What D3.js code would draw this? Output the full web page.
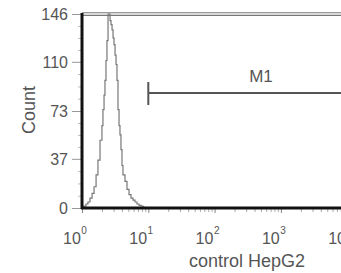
<!DOCTYPE html>
<html><head><meta charset="utf-8">
<script src="https://cdn.jsdelivr.net/npm/d3@7"></script>
<style>
html,body{margin:0;padding:0;background:#fff;}
svg{display:block;}
text{font-family:"Liberation Sans",Arial,sans-serif;fill:#555;}
</style></head>
<body>
<script>
// ---- data ----
const intensity = [1.00,1.07,1.15,1.23,1.32,1.42,1.52,1.63,1.74,1.87,2.00,2.07,2.15,2.22,2.30,2.38,2.47,2.56,2.65,2.74,2.84,2.94,3.04,3.15,3.26,3.37,3.49,3.62,3.74,3.87,4.01,4.15,4.45,4.77,5.12,5.48,5.88,6.30,6.75,7.24,7.76,8.32,8.92];
const counts    = [0,1.5,3,4.5,7.5,11,16,25,36,51,62,74,85,96,111,126,146,146,141,138,134,128,123,115,108,96,74,62,55,44,32,25,20,14,10,7.5,6,4.5,3,2,1.5,0.5,0];
const yTicks = [0,37,73,110,146];
const xDecades = [1,10,100,1000,10000];
const xExponents = ["0","1","2","3","4"];
const yTitle = "Count";
const xTitle = "control HepG2";
const markerLabel = "M1";
const markerRange = [10, 10000];

const W = 341, H = 273;
const svg = d3.select("body").append("svg").attr("width", W).attr("height", H);

const x = d3.scaleLog().domain([1, 10000]).range([82, 347.2]);
const y = d3.scaleLinear().domain([0, 146]).range([208, 14]);

// top frame double line
svg.append("rect").attr("x", 82).attr("y", 12).attr("width", W - 82).attr("height", 4).attr("fill", "#d8d8d8");
svg.append("line").attr("x1", 82).attr("x2", W).attr("y1", 12.5).attr("y2", 12.5).attr("stroke", "#999").attr("stroke-width", 1);
svg.append("line").attr("x1", 82).attr("x2", W).attr("y1", 15.5).attr("y2", 15.5).attr("stroke", "#777").attr("stroke-width", 1);

// y axis ticks (major + minor)
const minorY = [];
for (let i = 0; i < yTicks.length - 1; i++) {
  for (let k = 1; k < 4; k++) minorY.push(yTicks[i] + (yTicks[i+1] - yTicks[i]) * k / 4);
}
const gyMinor = svg.append("g").attr("transform", "translate(82,0)")
  .call(d3.axisLeft(y).tickValues(minorY).tickSize(4).tickFormat(""));
gyMinor.select(".domain").remove();
gyMinor.selectAll("line").attr("stroke", "#bbb");

const gy = svg.append("g").attr("transform", "translate(82,0)")
  .call(d3.axisLeft(y).tickValues(yTicks).tickSize(10).tickPadding(4).tickFormat(d3.format("d")));
gy.select(".domain").remove();
gy.selectAll("line").attr("stroke", "#999");
gy.selectAll("text").style("font-size", "16px").attr("fill", "#555").attr("dy", "0.36em");

// x axis minor ticks (log)
const minorX = [];
for (let i = 0; i < 4; i++) for (let k = 2; k < 10; k++) minorX.push(xDecades[i] * k);
const gxMinor = svg.append("g").attr("transform", "translate(0,208)")
  .call(d3.axisBottom(x).tickValues(minorX).tickSize(4).tickFormat(""));
gxMinor.select(".domain").remove();
gxMinor.selectAll("line").attr("stroke", "#aaa");
const gx = svg.append("g").attr("transform", "translate(0,208)")
  .call(d3.axisBottom(x).tickValues(xDecades).tickSize(5).tickFormat(""));
gx.select(".domain").remove();
gx.selectAll("line").attr("stroke", "#888");

// x tick labels 10^n
const xl = svg.append("g");
xDecades.forEach((d, i) => {
  const t = xl.append("text").attr("x", x(d) - 19).attr("y", 244).style("font-size", "16px");
  t.append("tspan").text("10");
  t.append("tspan").attr("dy", -10).attr("dx", 0.5).style("font-size", "10px").text(xExponents[i]);
});

// histogram
const data = intensity.map((v, i) => ({v, c: counts[i]}));
svg.append("path").datum(data)
  .attr("d", d3.line().x(d => x(d.v)).y(d => y(d.c)).curve(d3.curveStepAfter))
  .attr("fill", "none").attr("stroke", "#777").attr("stroke-width", 1.2);

// axes lines
svg.append("line").attr("x1", 82).attr("x2", 82).attr("y1", 13).attr("y2", 209).attr("stroke", "#111").attr("stroke-width", 3);
svg.append("line").attr("x1", 81).attr("x2", W).attr("y1", 208).attr("y2", 208).attr("stroke", "#111").attr("stroke-width", 3);

// marker M1
const my = 93;
svg.append("line").attr("x1", x(markerRange[0])).attr("x2", x(markerRange[1])).attr("y1", my).attr("y2", my)
  .attr("stroke", "#555").attr("stroke-width", 2);
svg.append("line").attr("x1", x(markerRange[0])).attr("x2", x(markerRange[0])).attr("y1", my - 11).attr("y2", my + 12)
  .attr("stroke", "#555").attr("stroke-width", 2);
svg.append("text").attr("x", 261).attr("y", 82).attr("text-anchor", "middle").style("font-size", "17px").text(markerLabel);

// titles
svg.append("text").attr("transform", "translate(35,110) rotate(-90)").attr("text-anchor", "middle")
  .style("font-size", "18px").text(yTitle);
svg.append("text").attr("x", 247).attr("y", 267).attr("text-anchor", "middle").style("font-size", "18px").text(xTitle);
</script>
</body></html>
